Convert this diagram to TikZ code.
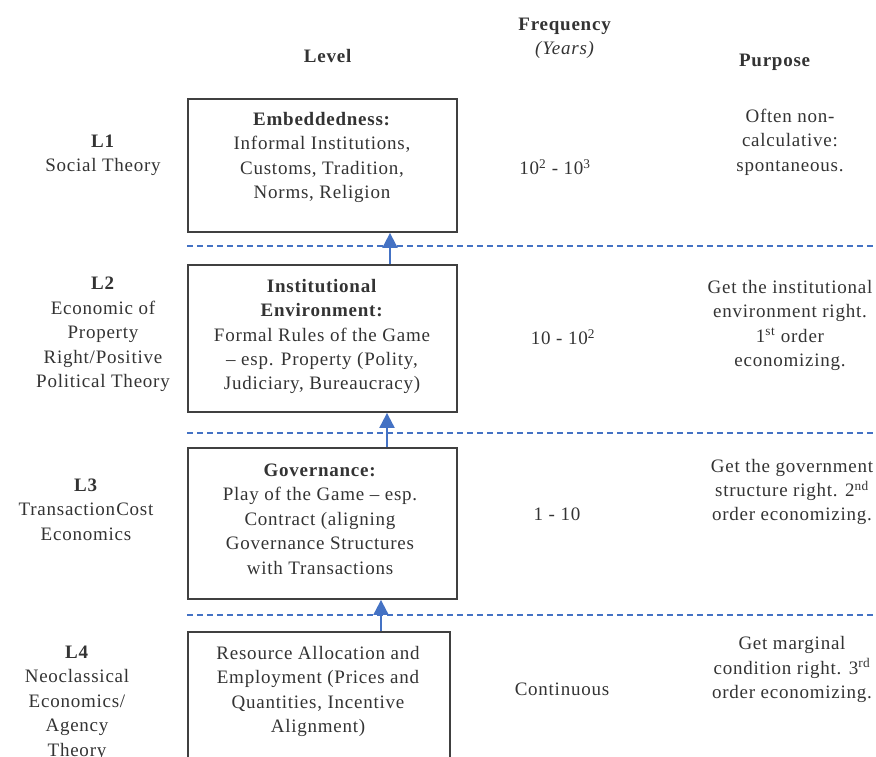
\documentclass[tikz,border=0pt]{standalone}
\usepackage{fontspec}
\setmainfont{Liberation Serif}[LetterSpace=4]
\usetikzlibrary{arrows.meta}
\definecolor{txt}{HTML}{333333}
\definecolor{boxc}{HTML}{404040}
\definecolor{dblue}{HTML}{4472C4}
\tikzset{
  lbl/.style={text=txt, font=\fontsize{19}{24.4}\selectfont, align=center, inner sep=0pt},
  levelbox/.style={draw=boxc, line width=1.8pt, inner sep=0pt},
  sepline/.style={draw=dblue, line width=1.4pt, dash pattern=on 6pt off 4pt},
  uparrow/.style={draw=dblue, line width=2pt, -{Triangle[length=15pt 0,width=15pt 0]}}
}
\begin{document}
\begin{tikzpicture}[x=1pt,y=-1pt]
\useasboundingbox (0,0) rectangle (876,756);
\clip (0,0) rectangle (876,756);

% headers
\node[lbl] (hlevel) at (328,56) {\textbf{Level}};
\node[lbl] (hfreq) at (565,38.5) {\textbf{Frequency}\\\textit{(Years)}};
\node[lbl] (hpurp) at (775,62) {\textbf{Purpose}};

% boxes
\node[levelbox, minimum width=269pt, minimum height=133pt] (b1) at (322.5,165.5) {};
\node[levelbox, minimum width=269pt, minimum height=147pt] (b2) at (322.5,338.5) {};
\node[levelbox, minimum width=269pt, minimum height=151pt] (b3) at (322.5,523.5) {};
\node[levelbox, minimum width=262pt, minimum height=160pt] (b4) at (319,712) {};

% box texts
\node[lbl] (b1t) at (322,157.5) {\textbf{Embeddedness:}\\Informal Institutions,\\Customs, Tradition,\\Norms, Religion};
\node[lbl] (b2t) at (322,336.5) {\textbf{Institutional}\\\textbf{Environment:}\\Formal Rules of the Game\\– esp. Property (Polity,\\Judiciary, Bureaucracy)};
\node[lbl] (b3t) at (320,519) {\textbf{Governance:}\\Play of the Game – esp.\\Contract (aligning\\Governance Structures\\with Transactions};
\node[lbl] (b4t) at (318,691.5) {Resource Allocation and\\Employment (Prices and\\Quantities, Incentive\\Alignment)};

% level labels
\node[lbl] (l1) at (103,155) {\textbf{L1}\\Social Theory};
\node[lbl] (l2) at (103,334.5) {\textbf{L2}\\Economic of\\Property\\Right/Positive\\Political Theory};
\node[lbl] (l3) at (86,509.5) {\textbf{L3}\\Transaction\hspace{1pt}Cost\\Economics};
\node[lbl] (l4) at (77,703) {\textbf{L4}\\Neoclassical\\Economics/\\Agency\\Theory};

% frequency
\node[lbl] (f1) at (555,167) {10\textsuperscript{2} - 10\textsuperscript{3}};
\node[lbl] (f2) at (563,337) {10 - 10\textsuperscript{2}};
\node[lbl] (f3) at (557,514) {1 - 10};
\node[lbl] (f4) at (562,689) {Continuous};

% purpose
\node[lbl] (p1) at (790,142) {Often non-\\calculative:\\spontaneous.};
\node[lbl] (p2) at (790,325.5) {Get the institutional\\environment right.\\1\textsuperscript{st} order\\economizing.};
\node[lbl] (p3) at (792,492) {Get the government\\structure right. 2\textsuperscript{nd}\\order economizing.};
\node[lbl] (p4) at (792,669.5) {Get marginal\\condition right. 3\textsuperscript{rd}\\order economizing.};

% separator lines
\coordinate (e1) at (876,246);
\coordinate (e2) at (876,433);
\coordinate (e3) at (876,615);
\draw[sepline] (b1.west |- e1) -- (e1);
\draw[sepline] (b1.west |- e2) -- (e2);
\draw[sepline] (b1.west |- e3) -- (e3);

% arrows
\coordinate (x1) at (390,0);
\coordinate (x2) at (387,0);
\coordinate (x3) at (381,0);
\draw[uparrow] (b2.north -| x1) -- (b1.south -| x1);
\draw[uparrow] (b3.north -| x2) -- (b2.south -| x2);
\draw[uparrow] (b4.north -| x3) -- (b3.south -| x3);
\end{tikzpicture}
\end{document}
